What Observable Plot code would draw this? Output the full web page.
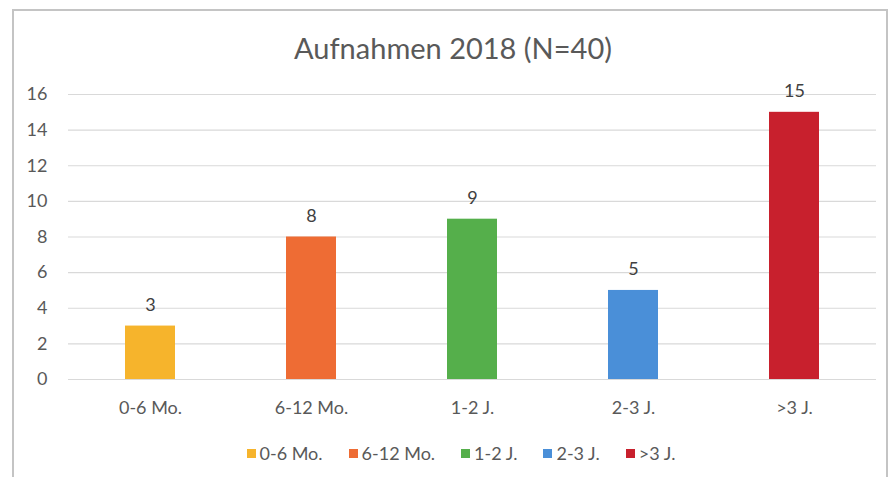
<!DOCTYPE html>
<html>
<head>
<meta charset="utf-8">
<script src="https://cdn.jsdelivr.net/npm/d3@7"></script>
<script src="https://cdn.jsdelivr.net/npm/@observablehq/plot@0.6"></script>
<style>
  html, body { margin: 0; padding: 0; background: #fff; }
  #wrap { position: relative; width: 896px; height: 477px; overflow: hidden; font-family: Lato, "Open Sans", sans-serif; color: #595959; }
  #frame { position: absolute; left: 12px; top: 9px; width: 876px; height: 480px; border: 2px solid #c4c4c4; box-sizing: border-box; }
  #title { position: absolute; left: 0; top: 30px; width: 906px; text-align: center; font-size: 29px; color: #595959; }
  #chart { position: absolute; left: 0; top: 70px; }
  #legend { position: absolute; left: 0; top: 442px; width: 922px; display: flex; justify-content: center; gap: 26px; font-size: 18px; color: #595959; }
  #legend .item { display: flex; align-items: center; gap: 4px; }
  #legend .sw { width: 9px; height: 9px; display: inline-block; }
</style>
</head>
<body>
<div id="wrap">
  <div id="frame"></div>
  <div id="title"></div>
  <div id="chart"></div>
  <div id="legend"></div>
</div>
<script>
const titleText = "Aufnahmen 2018 (N=40)";
const categories = ["0-6 Mo.", "6-12 Mo.", "1-2 J.", "2-3 J.", ">3 J."];
const values = [3, 8, 9, 5, 15];
const colors = ["#F6B42C", "#EE6C34", "#55AF4B", "#4A8FD8", "#C8202D"];
const yTicks = [0, 2, 4, 6, 8, 10, 12, 14, 16];

const data = categories.map((c, i) => ({category: c, value: values[i]}));

document.getElementById("title").textContent = titleText;

const chart = Plot.plot({
  width: 896,
  height: 360,
  marginLeft: 68,
  marginRight: 20,
  marginTop: 24,
  marginBottom: 51,
  style: {fontFamily: "Lato, 'Open Sans', sans-serif", fontSize: "18px", color: "#595959", background: "transparent"},
  x: {domain: categories, paddingInner: 0.69, paddingOuter: 0.345, label: null},
  y: {domain: [0, 16], label: null},
  color: {domain: categories, range: colors},
  marks: [
    Plot.ruleY(yTicks, {stroke: "#d9d9d9", strokeWidth: 1.2}),
    Plot.barY(data, {x: "category", y: "value", fill: "category"}),
    Plot.text(data, {x: "category", y: "value", text: d => String(d.value), dy: -21, fill: "#404040", fontSize: 18}),
    Plot.axisY(yTicks, {tickSize: 0, tickPadding: 21, fill: "#595959", fontSize: 18, label: null}),
    Plot.axisX({tickSize: 0, tickPadding: 22, fill: "#595959", fontSize: 18, label: null})
  ]
});
document.getElementById("chart").appendChild(chart);

const legend = document.getElementById("legend");
categories.forEach((c, i) => {
  const item = document.createElement("div");
  item.className = "item";
  const sw = document.createElement("span");
  sw.className = "sw";
  sw.style.background = colors[i];
  const t = document.createElement("span");
  t.textContent = c;
  item.appendChild(sw);
  item.appendChild(t);
  legend.appendChild(item);
});
</script>
</body>
</html>
